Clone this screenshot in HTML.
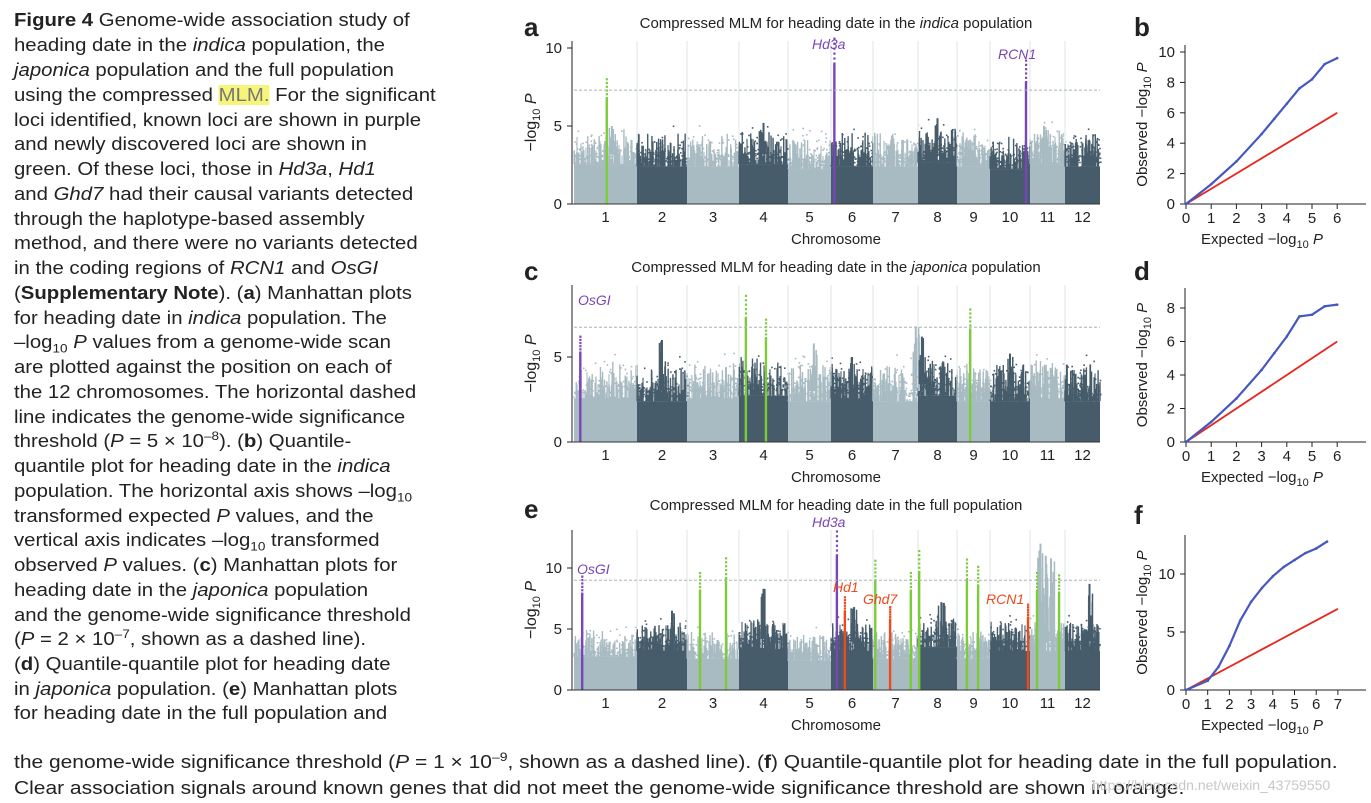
<!DOCTYPE html>
<html><head><meta charset="utf-8">
<style>
html,body{margin:0;padding:0;background:#fff;}
body{width:1371px;height:803px;position:relative;overflow:hidden;font-family:"Liberation Sans",sans-serif;}
.ln{position:absolute;left:14px;font-size:18px;color:#222;white-space:nowrap;line-height:20px;transform-origin:0 0;transform:scaleX(1.13);}
.ln.w{transform:scaleX(1.165);}
.ln sub,.ln sup{font-size:12px;line-height:0;}
.hl{background:#f6f57a;color:#777;}
svg{position:absolute;left:0;top:0;}
svg text{font-family:"Liberation Sans",sans-serif;}
</style></head><body>
<div id="txt">
<div class="ln" style="top:10px"><b>Figure 4</b> Genome-wide association study of</div>
<div class="ln" style="top:35px">heading date in the <i>indica</i> population, the</div>
<div class="ln" style="top:60px"><i>japonica</i> population and the full population</div>
<div class="ln" style="top:85px">using the compressed <span class="hl">MLM.</span> For the significant</div>
<div class="ln" style="top:110px">loci identified, known loci are shown in purple</div>
<div class="ln" style="top:134px">and newly discovered loci are shown in</div>
<div class="ln" style="top:159px">green. Of these loci, those in <i>Hd3a</i>, <i>Hd1</i></div>
<div class="ln" style="top:184px">and <i>Ghd7</i> had their causal variants detected</div>
<div class="ln" style="top:209px">through the haplotype-based assembly</div>
<div class="ln" style="top:233px">method, and there were no variants detected</div>
<div class="ln" style="top:258px">in the coding regions of <i>RCN1</i> and <i>OsGI</i></div>
<div class="ln" style="top:283px">(<b>Supplementary Note</b>). (<b>a</b>) Manhattan plots</div>
<div class="ln" style="top:308px">for heading date in <i>indica</i> population. The</div>
<div class="ln" style="top:332px">–log<sub>10</sub> <i>P</i> values from a genome-wide scan</div>
<div class="ln" style="top:357px">are plotted against the position on each of</div>
<div class="ln" style="top:382px">the 12 chromosomes. The horizontal dashed</div>
<div class="ln" style="top:407px">line indicates the genome-wide significance</div>
<div class="ln" style="top:431px">threshold (<i>P</i> = 5 × 10<sup>–8</sup>). (<b>b</b>) Quantile-</div>
<div class="ln" style="top:456px">quantile plot for heading date in the <i>indica</i></div>
<div class="ln" style="top:481px">population. The horizontal axis shows –log<sub>10</sub></div>
<div class="ln" style="top:506px">transformed expected <i>P</i> values, and the</div>
<div class="ln" style="top:530px">vertical axis indicates –log<sub>10</sub> transformed</div>
<div class="ln" style="top:555px">observed <i>P</i> values. (<b>c</b>) Manhattan plots for</div>
<div class="ln" style="top:580px">heading date in the <i>japonica</i> population</div>
<div class="ln" style="top:605px">and the genome-wide significance threshold</div>
<div class="ln" style="top:629px">(<i>P</i> = 2 × 10<sup>–7</sup>, shown as a dashed line).</div>
<div class="ln" style="top:654px">(<b>d</b>) Quantile-quantile plot for heading date</div>
<div class="ln" style="top:679px">in <i>japonica</i> population. (<b>e</b>) Manhattan plots</div>
<div class="ln" style="top:703px">for heading date in the full population and</div>
<div class="ln w" style="top:752px">the genome-wide significance threshold (<i>P</i> = 1 × 10<sup>–9</sup>, shown as a dashed line). (<b>f</b>) Quantile-quantile plot for heading date in the full population.</div>
<div class="ln w" style="top:778px">Clear association signals around known genes that did not meet the genome-wide significance threshold are shown in orange.</div>
</div>
<svg id="fig" width="1371" height="803" xmlns="http://www.w3.org/2000/svg"></svg>
<div style="position:absolute;left:1092px;top:777px;font-size:14px;color:#c8c8c8;">https://blog.csdn.net/weixin_43759550</div>
<script>
// ---- data ----
const chromosomes=["1","2","3","4","5","6","7","8","9","10","11","12"];
const chrLen=[63,50,52,49,43,42,45,39,33,40,35,35];
// panel a (indica)
const baseA=[3.2,3.0,3.0,3.2,2.8,3.0,3.0,3.3,3.0,2.8,3.2,3.0];
const locChrA=[0,5,9];const locPosA=[0.52,0.08,0.9];const locHA=[8.0,10.6,9.2];const locColA=["g","p","p"];
const peakChrA=[0,3,7,10];const peakPosA=[0.6,0.5,0.5,0.4];const peakHA=[5.0,5.2,5.5,5.0];
// panel c (japonica)
const baseC=[3.2,3.0,3.2,3.4,3.0,3.2,3.0,3.4,3.0,3.0,3.2,3.0];
const locChrC=[0,3,3,8];const locPosC=[0.1,0.14,0.55,0.4];const locHC=[6.2,8.6,7.2,7.8];const locColC=["p","g","g","g"];
const peakChrC=[1,4,6,7,9,5];const peakPosC=[0.5,0.6,0.95,0.1,0.5,0.5];const peakHC=[6.0,5.8,6.8,6.2,5.2,5.0];
// panel e (full)
const baseE=[3.4,4.0,3.2,4.2,3.0,4.0,3.2,4.4,3.2,4.0,4.0,4.0];
const locChrE=[0,2,2,5,5,6,6,6,7,8,8,9,10,10];
const locPosE=[0.13,0.25,0.75,0.14,0.33,0.05,0.38,0.84,0.03,0.3,0.64,0.95,0.2,0.83];
const locHE=[9.3,9.6,10.8,13.0,7.6,10.6,6.8,9.6,11.4,10.7,10.1,7.0,9.6,9.4];
const locColE=["p","g","g","p","o","g","o","g","g","g","g","o","g","g"];
const peakChrE=[10,10,10,3,1,5,7,11];const peakPosE=[0.3,0.45,0.6,0.5,0.7,0.55,0.6,0.7];const peakHE=[12.0,11.0,10.8,8.3,6.5,6.8,7.2,8.7];
// QQ data
const qqExpB=[0,1,2,3,3.5,4,4.5,5,5.5,6];const qqObsB=[0,1.3,2.8,4.6,5.6,6.6,7.6,8.2,9.2,9.6];
const qqExpD=[0,1,2,3,3.5,4,4.5,5,5.5,6];const qqObsD=[0,1.2,2.6,4.3,5.3,6.3,7.5,7.6,8.1,8.2];
const qqExpF=[0,1,1.5,2,2.5,3,3.5,4,4.5,5,5.5,6,6.5];const qqObsF=[0,0.8,2.0,3.8,6.0,7.6,8.8,9.8,10.6,11.2,11.8,12.2,12.8];

const NS="http://www.w3.org/2000/svg";const svg=document.getElementById('fig');
function mk(t,a,p){const e=document.createElementNS(NS,t);for(const k in a)e.setAttribute(k,a[k]);(p||svg).appendChild(e);return e;}
let seed=12345;function rnd(){seed=(seed*1103515245+12345)%2147483648;return seed/2147483648;}
const COL={g:"#7ccc3a",p:"#7a45b8",o:"#ee4a1c"};
const X0=574,XW=526;const cum=[0];chrLen.forEach((l,i)=>cum.push(cum[i]+l));const tot=cum[12];
function xs(c,f){return X0+(cum[c]+f*chrLen[c])/tot*XW;}

function manhattan(o){
  const g=mk('g',{});
  const ys=v=>o.y0-v*o.ppu;
  mk('text',{x:o.lx,y:o.ty+8,'font-size':26,'font-weight':'bold',fill:'#222'},g).textContent=o.letter;
  const tt=mk('text',{x:836,y:o.ty,'font-size':15,'text-anchor':'middle',fill:'#222'},g);tt.innerHTML=o.title;
  
  for(let c=0;c<12;c++){
    const col=c%2?"#465c6b":"#a9bbc2";const xa=xs(c,0),xb=xs(c,1);const b=o.base[c];
    mk('rect',{x:xa,y:ys(b*0.8),width:xb-xa,height:b*0.8*o.ppu,fill:col},g);
    let d='';
    for(let x=xa;x<xb-0.5;x+=1){const v=b*0.8+Math.pow(rnd(),2.2)*b*0.55;d+=`M${x.toFixed(1)} ${ys(b*0.8)}V${ys(v).toFixed(1)}`;}
    mk('path',{d:d,stroke:col,'stroke-width':1.1,fill:'none'},g);
    for(let i=0;i<35;i++){const x=xa+rnd()*(xb-xa);const v=b+Math.pow(rnd(),1.5)*1.6;mk('line',{x1:x,x2:x,y1:ys(b*0.8),y2:ys(v),stroke:col,'stroke-width':1.4},g);}
    for(let i=0;i<120;i++){const x=xa+rnd()*(xb-xa);let v=b*0.9+(-Math.log(rnd()+1e-6))*0.5;if(v>b+2.2)v=b+rnd()*2.2;
      mk('rect',{x:x,y:ys(v),width:1.6,height:1.6,fill:col},g);}
    if(c>0)mk('line',{x1:xa,x2:xa,y1:ys(b*1.3),y2:o.top,stroke:'#e2e9eb','stroke-width':1.2},g);
    const lb=mk('text',{x:(xa+xb)/2,y:o.y0+18,'font-size':15,'text-anchor':'middle',fill:'#222'},g);lb.textContent=chromosomes[c];
  }
  o.pc.forEach((c,i)=>{const col=c%2?"#465c6b":"#a9bbc2";const x=xs(c,o.pp[i]);
    for(let k=0;k<7;k++){const dx=(rnd()-0.5)*7;const v=o.base[c]+(o.ph[i]-o.base[c])*(0.4+0.6*rnd());mk('line',{x1:x+dx,x2:x+dx,y1:ys(o.base[c]),y2:ys(v),stroke:col,'stroke-width':1.5},g);}
    mk('line',{x1:x,x2:x,y1:ys(o.base[c]),y2:ys(o.ph[i]),stroke:col,'stroke-width':2},g);});
  o.lc.forEach((c,i)=>{const x=xs(c,o.lp[i]);const col=COL[o.lcol[i]];
    mk('line',{x1:x,x2:x,y1:o.y0,y2:ys(o.lh[i]*0.85),stroke:col,'stroke-width':2.4},g);
    for(let k=0;k<6;k++){const v=o.lh[i]*(0.85+0.15*k/5);mk('rect',{x:x-1,y:ys(v)-1,width:2.2,height:2.2,fill:col},g);}});
  mk('line',{x1:X0,x2:X0+XW,y1:ys(o.thr),y2:ys(o.thr),stroke:'#aab4b6','stroke-width':1,'stroke-dasharray':'3,2'},g);
  mk('line',{x1:X0-2,x2:X0-2,y1:o.top,y2:o.y0,stroke:'#222','stroke-width':1},g);
  mk('line',{x1:X0-2,x2:X0+XW,y1:o.y0,y2:o.y0,stroke:'#333','stroke-width':1},g);
  o.ticks.forEach(t=>{mk('line',{x1:X0-7,x2:X0-2,y1:ys(t),y2:ys(t),stroke:'#222'},g);
    mk('text',{x:X0-12,y:ys(t)+5,'font-size':15,'text-anchor':'end',fill:'#222'},g).textContent=t;});
  const yl=mk('text',{x:0,y:0,'font-size':16,'text-anchor':'middle',fill:'#222',transform:`translate(536,${(o.top+o.y0)/2}) rotate(-90)`},g);
  yl.innerHTML='−log<tspan dy="4" font-size="11">10</tspan><tspan dy="-4"> </tspan><tspan font-style="italic">P</tspan>';
  const xl=mk('text',{x:836,y:o.y0+40,'font-size':15,'text-anchor':'middle',fill:'#222'},g);xl.textContent='Chromosome';
  o.labels.forEach(l=>{const t=mk('text',{x:l[0],y:l[1],'font-size':14,'font-style':'italic',fill:COL[l[3]]},g);t.textContent=l[2];
    });
}
manhattan({name:'manhattan-indica',letter:'a',lx:524,ty:28,title:'Compressed MLM for heading date in the <tspan font-style="italic">indica</tspan> population',
  y0:204,ppu:15.6,top:41,thr:7.3,ticks:[0,5,10],base:baseA,lc:locChrA,lp:locPosA,lh:locHA,lcol:locColA,pc:peakChrA,pp:peakPosA,ph:peakHA,
  labels:[[812,49,'Hd3a','p'],[998,59,'RCN1','p']]});
manhattan({name:'manhattan-japonica',letter:'c',lx:524,ty:272,title:'Compressed MLM for heading date in the <tspan font-style="italic">japonica</tspan> population',
  y0:442,ppu:17,top:285,thr:6.75,ticks:[0,5],base:baseC,lc:locChrC,lp:locPosC,lh:locHC,lcol:locColC,pc:peakChrC,pp:peakPosC,ph:peakHC,
  labels:[[578,305,'OsGI','p']]});
manhattan({name:'manhattan-full',letter:'e',lx:524,ty:510,title:'Compressed MLM for heading date in the full population',
  y0:690,ppu:12.2,top:530,thr:9,ticks:[0,5,10],base:baseE,lc:locChrE,lp:locPosE,lh:locHE,lcol:locColE,pc:peakChrE,pp:peakPosE,ph:peakHE,
  labels:[[577,574,'OsGI','p'],[812,527,'Hd3a','p'],[833,592,'Hd1','o'],[863,604,'Ghd7','o'],[986,604,'RCN1','o']]});

function qq(o){
  const g=mk('g',{});
  const xs2=v=>1186+v*o.px, ys2=v=>o.y0-v*o.py;
  mk('text',{x:1134,y:o.ty+8,'font-size':26,'font-weight':'bold',fill:'#222'},g).textContent=o.letter;
  mk('line',{x1:1185,x2:1185,y1:o.top,y2:o.y0,stroke:'#222'},g);
  mk('line',{x1:1185,x2:1366,y1:o.y0,y2:o.y0,stroke:'#222'},g);
  o.xt.forEach(t=>{mk('line',{x1:xs2(t),x2:xs2(t),y1:o.y0,y2:o.y0+5,stroke:'#222'},g);
    mk('text',{x:xs2(t),y:o.y0+19,'font-size':15,'text-anchor':'middle',fill:'#222'},g).textContent=t;});
  o.yt.forEach(t=>{mk('line',{x1:1180,x2:1185,y1:ys2(t),y2:ys2(t),stroke:'#222'},g);
    mk('text',{x:1175,y:ys2(t)+5,'font-size':15,'text-anchor':'end',fill:'#222'},g).textContent=t;});
  mk('line',{x1:xs2(0),y1:ys2(0),x2:xs2(o.xmax),y2:ys2(o.xmax),stroke:'#e8261f','stroke-width':1.8},g);
  const pts=o.ex.map((e,i)=>xs2(e)+','+ys2(o.ob[i])).join(' ');
  mk('polyline',{points:pts,fill:'none',stroke:'#4658c0','stroke-width':2.2},g);
  o.ex.forEach((e,i)=>mk('circle',{cx:xs2(e),cy:ys2(o.ob[i]),r:1.3,fill:'#4658c0'},g));
  const yl=mk('text',{x:0,y:0,'font-size':15,'text-anchor':'middle',fill:'#222',transform:`translate(1147,${(o.top+o.y0)/2}) rotate(-90)`},g);
  yl.innerHTML='Observed −log<tspan dy="4" font-size="11">10</tspan><tspan dy="-4"> </tspan><tspan font-style="italic">P</tspan>';
  const xl=mk('text',{x:1262,y:o.y0+40,'font-size':15,'text-anchor':'middle',fill:'#222'},g);
  xl.innerHTML='Expected −log<tspan dy="4" font-size="11">10</tspan><tspan dy="-4"> </tspan><tspan font-style="italic">P</tspan>';
}
qq({name:'qq-indica',letter:'b',ty:28,y0:204,top:45,px:25.2,py:15.2,xmax:6,xt:[0,1,2,3,4,5,6],yt:[0,2,4,6,8,10],ex:qqExpB,ob:qqObsB});
qq({name:'qq-japonica',letter:'d',ty:272,y0:442,top:288,px:25.2,py:16.75,xmax:6,xt:[0,1,2,3,4,5,6],yt:[0,2,4,6,8],ex:qqExpD,ob:qqObsD});
qq({name:'qq-full',letter:'f',ty:516,y0:690,top:535,px:21.7,py:11.6,xmax:7,xt:[0,1,2,3,4,5,6,7],yt:[0,5,10],ex:qqExpF,ob:qqObsF});
</script>
</body></html>
